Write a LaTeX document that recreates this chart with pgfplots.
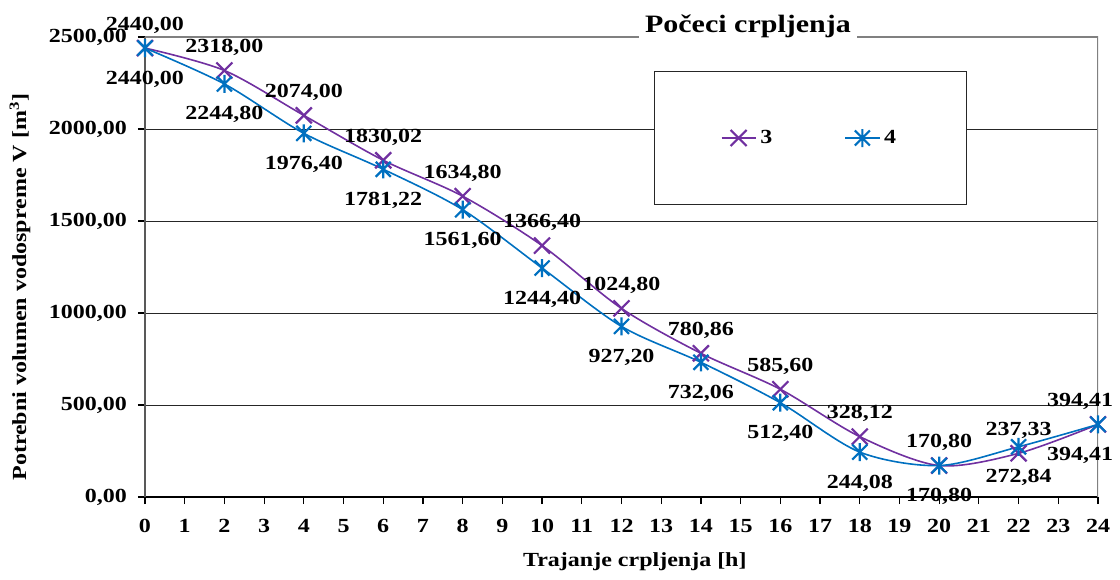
\documentclass[border=0pt]{standalone}
\usepackage{fontspec}
\setmainfont{Liberation Serif}[FakeStretch=1.2]
\usepackage{pgfplots}
\pgfplotsset{compat=1.18}

\definecolor{ser3}{RGB}{112,48,160}
\definecolor{ser4}{RGB}{0,112,192}
\definecolor{frame}{RGB}{128,128,128}

% Excel-like marks
\pgfdeclareplotmark{xcross}{%
  \pgfpathmoveto{\pgfqpoint{-\pgfplotmarksize}{-\pgfplotmarksize}}%
  \pgfpathlineto{\pgfqpoint{\pgfplotmarksize}{\pgfplotmarksize}}%
  \pgfpathmoveto{\pgfqpoint{-\pgfplotmarksize}{\pgfplotmarksize}}%
  \pgfpathlineto{\pgfqpoint{\pgfplotmarksize}{-\pgfplotmarksize}}%
  \pgfusepathqstroke}
\pgfdeclareplotmark{xstar}{%
  \pgfpathmoveto{\pgfqpoint{-\pgfplotmarksize}{-\pgfplotmarksize}}%
  \pgfpathlineto{\pgfqpoint{\pgfplotmarksize}{\pgfplotmarksize}}%
  \pgfpathmoveto{\pgfqpoint{-\pgfplotmarksize}{\pgfplotmarksize}}%
  \pgfpathlineto{\pgfqpoint{\pgfplotmarksize}{-\pgfplotmarksize}}%
  \pgfpathmoveto{\pgfqpoint{0pt}{-1.2\pgfplotmarksize}}%
  \pgfpathlineto{\pgfqpoint{0pt}{1.2\pgfplotmarksize}}%
  \pgfusepathqstroke}

\begin{document}
\fontsize{10}{12}\selectfont\bfseries
\begin{tikzpicture}
\path[use as bounding box] (-72.5pt,-41pt) rectangle (487.5pt,248.5pt);
\begin{axis}[
    at={(0,0)}, anchor=south west,
    scale only axis,
    width=476.5pt, height=230pt,
    xmin=0, xmax=24, ymin=0, ymax=2500,
    xtick={0,1,...,24},
    ytick={0,500,...,2500},
    axis x line*=bottom, axis y line*=left,
    axis line style={-},
    x axis line style={black, line width=0.8pt},
    y axis line style={black!65, line width=1pt},
    ymajorgrids,
    major grid style={black!85, line width=0.5pt},
    tick align=outside,
    major tick length=3.5pt,
    tick style={black, line width=0.6pt},
    /pgf/number format/assume math mode=true,
    tick label style={font=\bfseries},
    yticklabel style={xshift=-2pt, /pgf/number format/.cd, fixed, fixed zerofill, precision=2, use comma, 1000 sep={}},
    xticklabel style={yshift=-4pt},
    ylabel={Potrebni volumen vodospreme V [m\textsuperscript{3}]},
    ylabel style={at={(axis description cs:-0.1312,0.4565)}, anchor=center},
    xlabel={Trajanje crpljenja [h]},
    xlabel style={at={(axis description cs:0.514,-0.152)}, anchor=base},
    title={Počeci crpljenja},
    title style={at={(axis description cs:0.6327,1)}, anchor=base, yshift=-4pt,
        fill=white, inner xsep=3pt, font=\fontsize{12.5}{15}\selectfont\bfseries},
    legend columns=2,
    legend style={at={(axis description cs:0.6983,0.7804)}, anchor=center,
        draw=black!85, line width=0.6pt, fill=white,
        inner xsep=33pt, inner ysep=27pt, font=\bfseries,
        /tikz/every even column/.append style={column sep=34pt}},
    point meta=explicit symbolic,
    nodes near coords={\pgfplotspointmeta},
    every node near coord/.append style={font=\bfseries, text=black, inner sep=0pt},
]

% top and right border of the plot area
\draw[frame, line width=1pt] (rel axis cs:0,1) -- (rel axis cs:1,1) -- (rel axis cs:1,0);

% -------- series 3 --------
\addplot[ser3, line width=0.8pt, smooth, tension=0.5,
    mark=xcross, mark size=4pt, mark options={line width=1.1pt, solid},
    nodes near coords style={anchor=base, yshift=9pt},
    coordinate style/.condition={\coordindex==12}{xshift=-9pt}]
coordinates {
    (0,2440)    [2440,00]
    (2,2318)    [2318,00]
    (4,2074)    [2074,00]
    (6,1830.02) [1830,02]
    (8,1634.80) [1634,80]
    (10,1366.40) [1366,40]
    (12,1024.80) [1024,80]
    (14,780.86) [780,86]
    (16,585.60) [585,60]
    (18,328.12) [328,12]
    (20,170.80) [170,80]
    (22,237.33) [237,33]
    (24,394.41) [394,41]
};

% -------- series 4 --------
\addplot[ser4, line width=0.8pt, smooth, tension=0.5,
    mark=xstar, mark size=3.75pt, mark options={line width=1.1pt, solid},
    nodes near coords style={anchor=base, yshift=-18pt},
    coordinate style/.condition={\coordindex==12}{xshift=-9pt}]
coordinates {
    (0,2440)    [2440,00]
    (2,2244.80) [2244,80]
    (4,1976.40) [1976,40]
    (6,1781.22) [1781,22]
    (8,1561.60) [1561,60]
    (10,1244.40) [1244,40]
    (12,927.20) [927,20]
    (14,732.06) [732,06]
    (16,512.40) [512,40]
    (18,244.08) [244,08]
    (20,170.80) [170,80]
    (22,272.84) [272,84]
    (24,394.41) [394,41]
};

\legend{3, 4}
\end{axis}
\end{tikzpicture}
\end{document}
